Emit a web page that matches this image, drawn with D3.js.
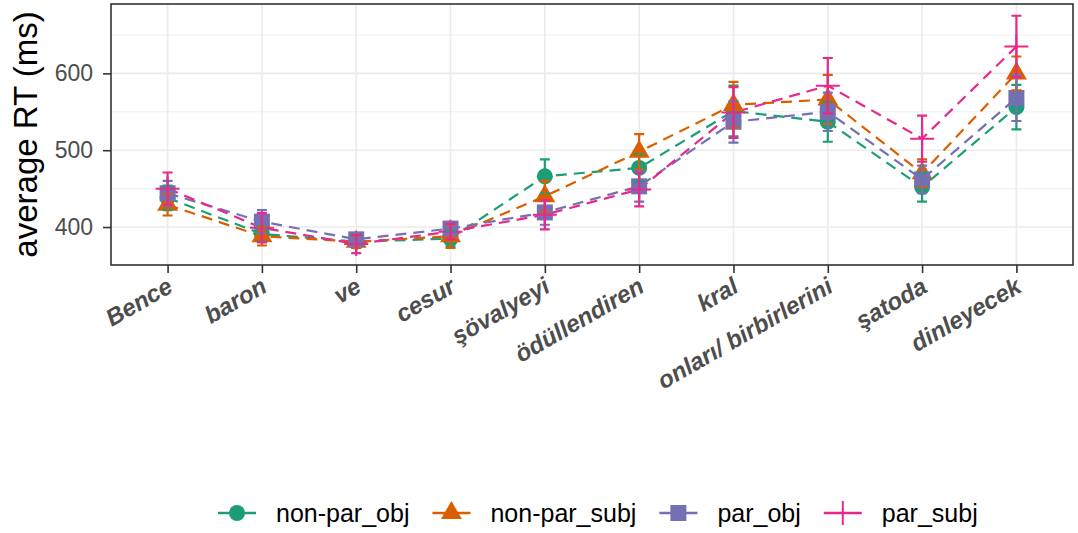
<!DOCTYPE html>
<html>
<head>
<meta charset="utf-8">
<script src="https://cdn.jsdelivr.net/npm/d3@7"></script>
<style>
  body { margin: 0; background: #fff; }
  text { font-family: "Liberation Sans", Arial, sans-serif; }
</style>
</head>
<body>
<div id="chart"></div>
<script>
// words of the sentence (x categories)
var words = ["Bence", "baron", "ve", "cesur", "şövalyeyi", "ödüllendiren", "kral",
  "onları/ birbirlerini", "şatoda", "dinleyecek"];
var conditions = ["non-par_obj", "non-par_subj", "par_obj", "par_subj"];
var colors = ["#1B9E77", "#D95F02", "#7570B3", "#E7298A"];

// mean RT per word and standard error
var rtNonParObj  = [438, 391, 381, 385, 466, 477, 551, 537, 452, 556];
var seNonParObj  = [16, 10, 8, 10, 22, 18, 33, 26, 19, 29];
var rtNonParSubj = [429, 388, 381, 388, 440, 498, 559, 566, 470, 600];
var seNonParSubj = [14, 12, 8, 15, 20, 23, 30, 32, 18, 22];
var rtParObj     = [444, 407, 384, 398, 419, 453, 537, 550, 462, 568];
var seParObj     = [16, 15, 8, 8, 16, 20, 27, 25, 18, 30];
var rtParSubj    = [450, 399, 378, 394, 416, 449, 549, 584, 515, 635];
var seParSubj    = [21, 19, 12, 10, 19, 22, 33, 36, 30, 40];

var yTicks = [400, 500, 600];
var yMinor = [350, 450, 550, 650];

var series = [
  { name: conditions[0], shape: "circle",   rt: rtNonParObj,  se: seNonParObj },
  { name: conditions[1], shape: "triangle", rt: rtNonParSubj, se: seNonParSubj },
  { name: conditions[2], shape: "square",   rt: rtParObj,     se: seParObj },
  { name: conditions[3], shape: "plus",     rt: rtParSubj,    se: seParSubj }
];
series.forEach(function(s, i) {
  s.color = colors[i];
  s.values = words.map(function(w, j) { return { word: w, rt: s.rt[j], se: s.se[j] }; });
});

var W = 1078, H = 533;
var pLeft = 111, pRight = 1073, pTop = 4, pBottom = 265;

var svg = d3.select("#chart").append("svg")
  .attr("width", W).attr("height", H);

var x = d3.scalePoint().domain(words).range([pLeft, pRight]).padding(0.6);
var y = d3.scaleLinear().domain([350.6, 690.3]).range([pBottom, pTop]);

// grid
var grid = svg.append("g");
grid.selectAll(".minor").data(yMinor).enter().append("line")
  .attr("x1", pLeft).attr("x2", pRight)
  .attr("y1", d => y(d)).attr("y2", d => y(d))
  .attr("stroke", "#EBEBEB").attr("stroke-width", 0.8);
grid.selectAll(".major").data(yTicks).enter().append("line")
  .attr("x1", pLeft).attr("x2", pRight)
  .attr("y1", d => y(d)).attr("y2", d => y(d))
  .attr("stroke", "#EBEBEB").attr("stroke-width", 1.6);
grid.selectAll(".vmajor").data(words).enter().append("line")
  .attr("x1", d => x(d)).attr("x2", d => x(d))
  .attr("y1", pTop).attr("y2", pBottom)
  .attr("stroke", "#EBEBEB").attr("stroke-width", 1.6);

// dashed lines
var line = d3.line().x(d => x(d.word)).y(d => y(d.rt));
svg.selectAll(".series").data(series).enter().append("path")
  .attr("d", d => line(d.values))
  .attr("fill", "none")
  .attr("stroke", d => d.color)
  .attr("stroke-width", 2.2)
  .attr("stroke-dasharray", "11,7");

function drawShape(g, shape, color) {
  if (shape === "circle") {
    g.append("circle").attr("r", 8).attr("fill", color);
  } else if (shape === "triangle") {
    g.append("path").attr("d", d3.symbol().type(d3.symbolTriangle).size(190)()).attr("fill", color);
  } else if (shape === "square") {
    g.append("rect").attr("x", -8).attr("y", -8).attr("width", 16).attr("height", 16).attr("fill", color);
  } else {
    g.append("path").attr("d", "M-12,0H12M0,-12V12")
      .attr("stroke", color).attr("stroke-width", 2).attr("fill", "none");
  }
}

// points
series.forEach(function(s) {
  svg.append("g").selectAll("g").data(s.values).enter().append("g")
    .attr("transform", d => "translate(" + x(d.word) + "," + y(d.rt) + ")")
    .each(function() { drawShape(d3.select(this), s.shape, s.color); });
});

// error bars
series.forEach(function(s) {
  var eb = svg.append("g").attr("stroke", s.color).attr("stroke-width", 2.2).attr("fill", "none");
  eb.selectAll("path").data(s.values).enter().append("path")
    .attr("d", function(d) {
      var cx = x(d.word), y0 = y(d.rt - d.se), y1 = y(d.rt + d.se);
      return "M" + (cx - 5) + "," + y1 + "H" + (cx + 5) +
        "M" + cx + "," + y1 + "V" + y0 +
        "M" + (cx - 5) + "," + y0 + "H" + (cx + 5);
    });
});

// panel border
svg.append("rect")
  .attr("x", pLeft).attr("y", pTop)
  .attr("width", pRight - pLeft).attr("height", pBottom - pTop)
  .attr("fill", "none").attr("stroke", "#333333").attr("stroke-width", 1.6);

// y axis
var yAxis = svg.append("g")
  .attr("transform", "translate(" + pLeft + ",0)")
  .call(d3.axisLeft(y).tickValues(yTicks).tickSize(8).tickPadding(10));
yAxis.select(".domain").remove();
yAxis.selectAll(".tick line").attr("stroke", "#333333").attr("stroke-width", 1.6);
yAxis.selectAll(".tick text").attr("fill", "#4D4D4D").style("font-size", "23px")
  .style("font-family", "'Liberation Sans', Arial, sans-serif");

// x axis
var xAxis = svg.append("g")
  .attr("transform", "translate(0," + pBottom + ")")
  .call(d3.axisBottom(x).tickSize(8).tickFormat(""));
xAxis.select(".domain").remove();
xAxis.selectAll(".tick line").attr("stroke", "#333333").attr("stroke-width", 1.6);

svg.append("g").selectAll("text").data(words).enter().append("text")
  .attr("transform", d => "translate(" + (x(d) - 2) + "," + (pBottom + 11) + ") rotate(-30)")
  .attr("text-anchor", "end")
  .attr("dy", "0.72em")
  .attr("fill", "#4D4D4D")
  .style("font-size", "24px")
  .style("font-weight", "bold")
  .style("font-style", "italic")
  .text(d => d);

// y title
svg.append("text")
  .attr("transform", "translate(37," + ((pTop + pBottom) / 2) + ") rotate(-90)")
  .attr("text-anchor", "middle")
  .attr("fill", "#000")
  .style("font-size", "33px")
  .text("average RT (ms)");

// legend
var legend = svg.append("g").attr("transform", "translate(218,513)");
var lx = 0;
series.forEach(function(s) {
  var item = legend.append("g").attr("transform", "translate(" + lx + ",0)");
  item.append("line").attr("x1", 0).attr("x2", 38)
    .attr("stroke", s.color).attr("stroke-width", 2.6);
  drawShape(item.append("g").attr("transform", "translate(19,0)"), s.shape, s.color);
  var t = item.append("text").attr("x", 58).attr("dy", "0.36em")
    .attr("fill", "#000").style("font-size", "25px").text(s.name);
  lx += 58 + t.node().getComputedTextLength() + 23;
});
</script>
</body>
</html>
